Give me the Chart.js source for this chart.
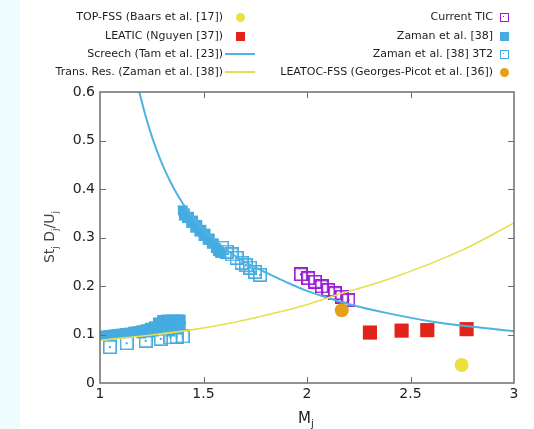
<!DOCTYPE html>
<html><head><meta charset="utf-8">
<script src="https://cdn.jsdelivr.net/npm/chart.js@4"></script>
<style>
html,body{margin:0;padding:0;background:#fff;}
#wrap{position:relative;width:534px;height:429px;overflow:hidden;background:#fff;font-family:"DejaVu Sans",sans-serif;}
#strip{position:absolute;left:0;top:0;width:20px;height:429px;background:#effdfe;}
#c{position:absolute;left:0;top:0;}
.lt{position:absolute;font-size:11px;color:#1e1e1e;white-space:nowrap;line-height:14px;text-align:right;}
.sym{position:absolute;box-sizing:border-box;}
#xt{position:absolute;left:298px;top:409px;font-size:15px;color:#222;}
#xt sub{font-size:10px;}
#yt{position:absolute;left:1px;top:228px;width:96px;height:18px;line-height:18px;text-align:center;font-size:14px;color:#444;transform:rotate(-90deg);}
#yt sub{font-size:9px;}
</style></head>
<body><div id="wrap">
<div id="strip"></div>
<canvas id="c" width="534" height="429"></canvas>
<div id="xt">M<sub>j</sub></div>
<div id="yt">St<sub>j</sub> D<sub>j</sub>/U<sub>j</sub></div>
</div>
<script>
// ---- data ----
const xTickVals = [1, 1.5, 2, 2.5, 3];
const xTickLabels = ['1', '1.5', '2', '2.5', '3'];
const yTickVals = [0, 0.1, 0.2, 0.3, 0.4, 0.5, 0.6];
const yTickLabels = ['0', '0.1', '0.2', '0.3', '0.4', '0.5', '0.6'];

const screechM  = [1.19, 1.22, 1.25, 1.28, 1.31, 1.34, 1.37, 1.40, 1.45, 1.50, 1.60, 1.70, 1.80, 1.90, 2.00, 2.20, 2.40, 2.60, 2.80, 3.00];
const screechSt = [0.600, 0.551, 0.509, 0.473, 0.442, 0.415, 0.391, 0.370, 0.341, 0.316, 0.278, 0.250, 0.228, 0.208, 0.190, 0.163, 0.143, 0.127, 0.116, 0.107];

const transM  = [1.00, 1.25, 1.45, 1.60, 1.87, 2.01, 2.11, 2.40, 2.75, 3.00];
const transSt = [0.088, 0.099, 0.110, 0.121, 0.147, 0.163, 0.177, 0.215, 0.274, 0.330];

const zamanM  = [1.02, 1.04, 1.06, 1.08, 1.10, 1.12, 1.14, 1.16, 1.18, 1.20, 1.22, 1.24, 1.26, 1.28, 1.30, 1.32, 1.34, 1.36, 1.38, 1.39,
                 1.20, 1.24, 1.26, 1.28, 1.30, 1.32, 1.34, 1.36, 1.38, 1.39,
                 1.40, 1.405, 1.41, 1.42, 1.43, 1.44, 1.45, 1.46, 1.47, 1.48, 1.49, 1.50, 1.51, 1.52, 1.53, 1.54, 1.55, 1.56, 1.57, 1.58];
const zamanSt = [0.098, 0.099, 0.100, 0.101, 0.102, 0.103, 0.104, 0.106, 0.107, 0.109, 0.111, 0.114, 0.117, 0.125, 0.130, 0.131, 0.131, 0.131, 0.131, 0.131,
                 0.102, 0.104, 0.106, 0.108, 0.112, 0.118, 0.106, 0.120, 0.110, 0.117,
                 0.356, 0.345, 0.350, 0.340, 0.343, 0.330, 0.335, 0.320, 0.326, 0.312, 0.316, 0.303, 0.308, 0.295, 0.298, 0.287, 0.288, 0.278, 0.272, 0.268];

const zaman3T2M  = [1.048, 1.129, 1.221, 1.294, 1.34, 1.37, 1.40, 1.59, 1.612, 1.636, 1.66, 1.684, 1.705, 1.725, 1.749, 1.773];
const zaman3T2St = [0.074, 0.082, 0.087, 0.091, 0.094, 0.095, 0.096, 0.279, 0.271, 0.265, 0.258, 0.248, 0.243, 0.238, 0.229, 0.223];

const ticM  = [1.970, 2.006, 2.039, 2.071, 2.103, 2.135, 2.168, 2.200];
const ticSt = [0.224, 0.216, 0.209, 0.199, 0.192, 0.185, 0.178, 0.171];

const leaticM  = [2.304, 2.457, 2.581, 2.771];
const leaticSt = [0.104, 0.108, 0.109, 0.111];

const topfssM  = [2.747];
const topfssSt = [0.037];

const leatocM  = [2.168];
const leatocSt = [0.150];

const legendLeft  = ['TOP-FSS (Baars et al. [17])', 'LEATIC (Nguyen [37])', 'Screech (Tam et al. [23])', 'Trans. Res. (Zaman et al. [38])'];
const legendRight = ['Current TIC', 'Zaman et al. [38]', 'Zaman et al. [38] 3T2', 'LEATOC-FSS (Georges-Picot et al. [36])'];

// ---- colours ----
const CYAN = '#45abe0', LINEBLUE = '#4fb3df', YLINE = '#e6df4e', RED = '#e2231a', PURPLE = '#9a1bd4', ORANGE = '#e5a01b', YDOT = '#ece03e';

const pts = (xs, ys) => xs.map((x, i) => ({x, y: ys[i]}));

function hollowSq(color, size, lw) {
  const c = document.createElement('canvas');
  c.width = size; c.height = size;
  const g = c.getContext('2d');
  g.strokeStyle = color; g.lineWidth = lw;
  g.strokeRect(lw / 2, lw / 2, size - lw, size - lw);
  g.fillStyle = color;
  g.fillRect(size / 2 - 1, size / 2 - 1, 2, 2);
  return c;
}
const sq3T2 = hollowSq(CYAN, 14, 1.6);
const sqTIC = hollowSq(PURPLE, 14, 1.8);

const framePlugin = {
  id: 'frame',
  afterDatasetsDraw(chart) {
    const {ctx, chartArea: a, scales: {x, y}} = chart;
    ctx.save();
    ctx.strokeStyle = '#6e6e6e';
    ctx.lineWidth = 1.5;
    ctx.strokeRect(a.left, a.top, a.right - a.left, a.bottom - a.top);
    ctx.lineWidth = 1;
    ctx.beginPath();
    yTickVals.slice(1, -1).forEach(v => {
      const py = Math.round(y.getPixelForValue(v)) + 0.5;
      ctx.moveTo(a.left, py); ctx.lineTo(a.left + 6, py);
      ctx.moveTo(a.right, py); ctx.lineTo(a.right - 6, py);
    });
    xTickVals.slice(1, -1).forEach(v => {
      const px = Math.round(x.getPixelForValue(v)) + 0.5;
      ctx.moveTo(px, a.bottom); ctx.lineTo(px, a.bottom - 6);
      ctx.moveTo(px, a.top); ctx.lineTo(px, a.top + 6);
    });
    ctx.stroke();
    ctx.restore();
  }
};

const tickFont = {family: '"DejaVu Sans", sans-serif', size: 14};

new Chart(document.getElementById('c'), {
  type: 'scatter',
  data: {
    datasets: [
      {label: legendLeft[2], type: 'line', data: pts(screechM, screechSt), borderColor: LINEBLUE, borderWidth: 2, pointRadius: 0, fill: false, cubicInterpolationMode: 'monotone', clip: 0, order: 1},
      {label: legendLeft[3], type: 'line', data: pts(transM, transSt), borderColor: YLINE, borderWidth: 1.6, pointRadius: 0, fill: false, cubicInterpolationMode: 'monotone', clip: 0, order: 0},
      {label: legendRight[1], data: pts(zamanM, zamanSt), pointStyle: 'rect', pointRadius: 7, backgroundColor: CYAN, borderColor: CYAN, borderWidth: 0, order: 5},
      {label: legendRight[2], data: pts(zaman3T2M, zaman3T2St), pointStyle: sq3T2, order: 4},
      {label: legendRight[0], data: pts(ticM, ticSt), pointStyle: sqTIC, order: 3},
      {label: legendLeft[1], data: pts(leaticM, leaticSt), pointStyle: 'rect', pointRadius: 10, backgroundColor: RED, borderColor: RED, borderWidth: 0, order: 2},
      {label: legendLeft[0], data: pts(topfssM, topfssSt), pointStyle: 'circle', pointRadius: 7, backgroundColor: YDOT, borderColor: YDOT, borderWidth: 0, order: 2},
      {label: legendRight[3], data: pts(leatocM, leatocSt), pointStyle: 'circle', pointRadius: 7, backgroundColor: ORANGE, borderColor: ORANGE, borderWidth: 0, order: 2}
    ]
  },
  options: {
    responsive: false,
    animation: false,
    events: [],
    layout: {padding: {left: 50, right: 20, top: 92, bottom: 0}},
    plugins: {legend: {display: false}, tooltip: {enabled: false}},
    scales: {
      x: {
        type: 'linear', min: 1, max: 3,
        afterFit(s) { s.height = 46; },
        afterBuildTicks(s) { s.ticks = xTickVals.map(v => ({value: v})); },
        ticks: {callback: (v, i) => xTickLabels[i], font: tickFont, color: '#222', padding: 3, maxRotation: 0, autoSkip: false},
        grid: {display: false, drawTicks: false},
        border: {display: false}
      },
      y: {
        type: 'linear', min: 0, max: 0.6,
        afterFit(s) { s.width = 50; },
        afterBuildTicks(s) { s.ticks = yTickVals.map(v => ({value: v})); },
        ticks: {callback: (v, i) => yTickLabels[i], font: tickFont, color: '#222', padding: 5, autoSkip: false},
        grid: {display: false, drawTicks: false},
        border: {display: false}
      }
    }
  },
  plugins: [framePlugin]
});

// ---- HTML legend ----
const wrap = document.getElementById('wrap');
const rowY = [17, 36, 54, 72];
function addText(txt, rightEdge, cy) {
  const d = document.createElement('div');
  d.className = 'lt';
  d.textContent = txt;
  d.style.right = (534 - rightEdge) + 'px';
  d.style.top = (cy - 7) + 'px';
  wrap.appendChild(d);
}
function addSym(kind, color, cx, cy) {
  const s = document.createElement('div');
  s.className = 'sym';
  if (kind === 'line') {
    s.style.left = (cx - 15) + 'px'; s.style.top = (cy - 1) + 'px';
    s.style.width = '30px'; s.style.height = '1.6px'; s.style.background = color;
  } else {
    const sz = 9;
    s.style.left = (cx - sz / 2) + 'px'; s.style.top = (cy - sz / 2) + 'px';
    s.style.width = sz + 'px'; s.style.height = sz + 'px';
    if (kind === 'circle') { s.style.background = color; s.style.borderRadius = '50%'; }
    else if (kind === 'square') { s.style.background = color; }
    else { s.style.border = '1.6px solid ' + color;
      const dot = document.createElement('div');
      dot.style.cssText = 'position:absolute;left:2.2px;top:2.2px;width:1.6px;height:1.6px;background:' + color;
      s.appendChild(dot); }
  }
  wrap.appendChild(s);
}
const leftSyms = [['circle', YDOT], ['square', RED], ['line', LINEBLUE], ['line', YLINE]];
const rightSyms = [['hollow', PURPLE], ['square', CYAN], ['hollow', CYAN], ['circle', ORANGE]];
legendLeft.forEach((t, i) => { addText(t, 223, rowY[i]); addSym(leftSyms[i][0], leftSyms[i][1], 240, rowY[i]); });
legendRight.forEach((t, i) => { addText(t, 493, rowY[i]); addSym(rightSyms[i][0], rightSyms[i][1], 504, rowY[i]); });
</script>
</body></html>
